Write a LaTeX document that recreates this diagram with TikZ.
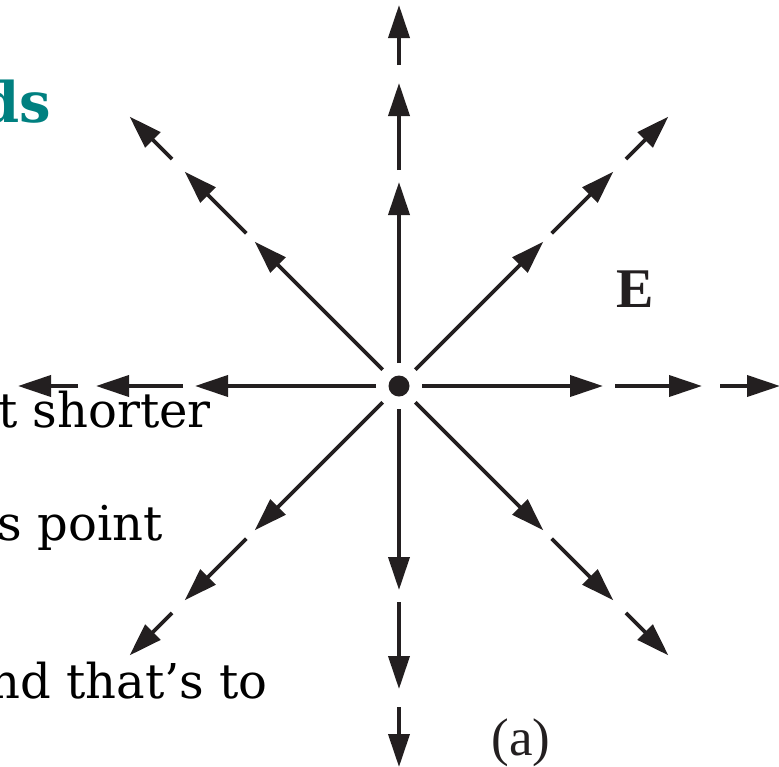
\documentclass[tikz,border=0pt]{standalone}
\usepackage{fontspec}
\usepackage{xcolor}
\usetikzlibrary{calc,arrows.meta}
\setmainfont{DejaVu Serif}
\newfontfamily\timesfont{Liberation Serif}
\definecolor{inkblack}{HTML}{231F20}
\definecolor{headteal}{HTML}{008080}

\begin{document}
\begin{tikzpicture}[
		x=1pt, y=-1pt,
		line cap=butt,
		fieldarrow/.style={draw=inkblack, line width=3.8pt, -{Triangle[length=33pt,width=21pt]}},
		bodytext/.style={anchor=base east, inner sep=0pt, font=\fontsize{48}{54}\selectfont}
		]
		\useasboundingbox (0,0) rectangle (779,766);
		
		% cut-off text on the left
		\node[anchor=base east, inner sep=0pt, text=headteal, font=\bfseries\fontsize{56}{60}\selectfont] (head) at (51,122) {ds};
		\node[bodytext] (line1) at (211,427) {t shorter};
		\node[bodytext] (line2) at (163,540) {s point};
		\node[bodytext] (line3) at (268,698) {nd that’s to};
		
		% point charge and its field
		\node[circle, fill=inkblack, inner sep=0pt, minimum size=21pt] (q) at (399,386) {};
		\foreach \a in {0,45,...,315} {
			\foreach \r/\s in {23/204,216/303,321/381} {
				\draw[fieldarrow] ($(q.center)+(\a:\r)$) -- ($(q.center)+(\a:\s)$);
			}
		}
		
		\node[text=inkblack, font=\timesfont\bfseries\fontsize{56}{60}\selectfont] (E) at (635,289) {E};
		\node[anchor=base, inner sep=0pt, text=inkblack, font=\timesfont\fontsize{53}{58}\selectfont] (label) at (521,755) {(a)};
		
	\end{tikzpicture}
\end{document}
